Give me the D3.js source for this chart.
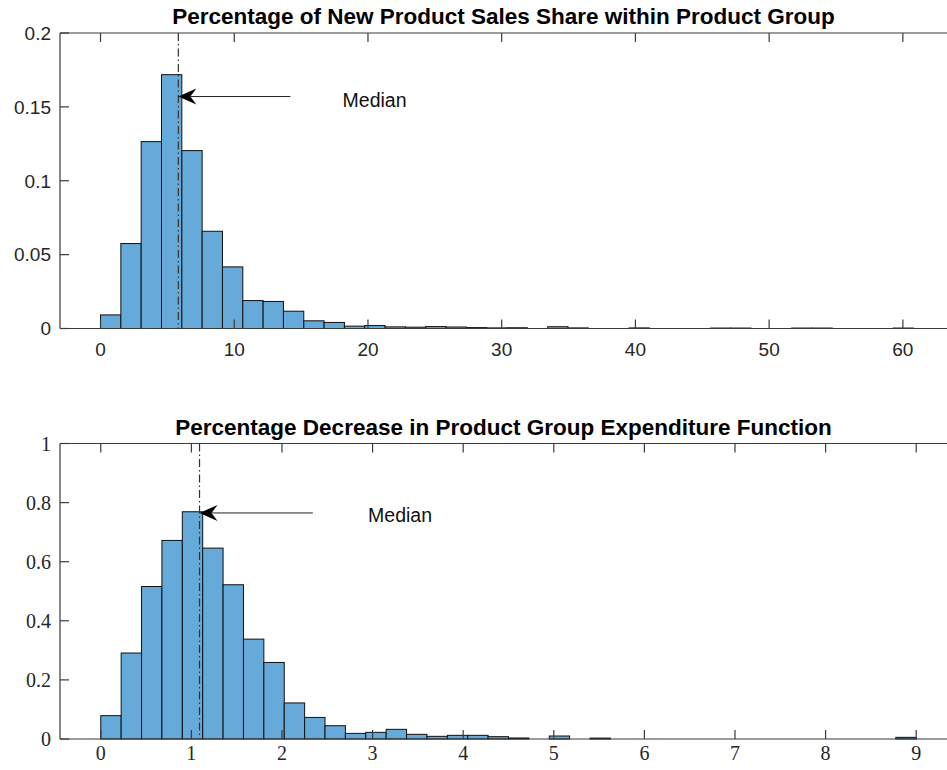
<!DOCTYPE html>
<html>
<head>
<meta charset="utf-8">
<script src="https://cdn.jsdelivr.net/npm/d3@7"></script>
<style>
  html, body { margin: 0; padding: 0; background: #fff; }
  svg { display: block; }
</style>
</head>
<body>
<svg id="chart" width="947" height="770"></svg>
<script>
// Share of new product sales within product group (%), probability per bin
const salesShareBinStart = 0;
const salesShareBinWidth = 1.52;
const salesShareProb = [
  0.0092, 0.0575, 0.1265, 0.1718, 0.1204, 0.0658, 0.0417, 0.0189, 0.0183, 0.0117,
  0.0052, 0.0041, 0.0016, 0.0020, 0.0011, 0.0009, 0.0013, 0.0010, 0.0006, 0.0004,
  0.0005, 0, 0.0012, 0.0004, 0, 0, 0.0004, 0, 0, 0,
  0.0003, 0.0003, 0, 0, 0.0003, 0.0003, 0, 0, 0, 0.0003
];
const salesShareMedian = 5.82;
const salesShareXTicks = [0, 10, 20, 30, 40, 50, 60];
const salesShareYTicks = [0, 0.05, 0.1, 0.15, 0.2];
const salesShareYLabels = ["0", "0.05", "0.1", "0.15", "0.2"];

// Decrease in product group expenditure function (%), probability density per bin
const expenditureBinStart = 0;
const expenditureBinWidth = 0.225;
const expenditureDens = [
  0.079, 0.291, 0.516, 0.672, 0.769, 0.646, 0.522, 0.338, 0.259, 0.122,
  0.073, 0.045, 0.019, 0.0225, 0.0327, 0.0158, 0.009, 0.0124, 0.0124, 0.0079,
  0.0034, 0, 0.0101, 0, 0.003, 0, 0, 0, 0, 0,
  0, 0, 0, 0, 0, 0, 0, 0, 0, 0.0056
];
const expenditureMedian = 1.09;
const expenditureXTicks = [0, 1, 2, 3, 4, 5, 6, 7, 8, 9];
const expenditureYTicks = [0, 0.2, 0.4, 0.6, 0.8, 1];
const expenditureYLabels = ["0", "0.2", "0.4", "0.6", "0.8", "1"];

const svg = d3.select("#chart");

const panels = [
  {
    title: "Percentage of New Product Sales Share within Product Group",
    start: salesShareBinStart, width: salesShareBinWidth, values: salesShareProb,
    median: salesShareMedian,
    xDomain: [-3.03, 63.3], yDomain: [0, 0.2],
    xTicks: salesShareXTicks, yTicks: salesShareYTicks, yLabels: salesShareYLabels,
    arrow: { fromX: 14.2, y: 0.157 }, labelAt: { x: 18.1, y: 0.155 },
    box: { left: 60, right: 947, top: 33, bottom: 328.5 },
    tickFont: "'Liberation Sans', Arial, sans-serif", tickSize: 19, xLabelGap: 14
  },
  {
    title: "Percentage Decrease in Product Group Expenditure Function",
    start: expenditureBinStart, width: expenditureBinWidth, values: expenditureDens,
    median: expenditureMedian,
    xDomain: [-0.45, 9.34], yDomain: [0, 1],
    xTicks: expenditureXTicks, yTicks: expenditureYTicks, yLabels: expenditureYLabels,
    arrow: { fromX: 2.34, y: 0.765 }, labelAt: { x: 2.95, y: 0.757 },
    box: { left: 60, right: 947, top: 443.5, bottom: 739 },
    tickFont: "'Liberation Serif', 'Times New Roman', serif", tickSize: 20, xLabelGap: 7
  }
];

const axisColor = "#3a3a3a";
const tickLen = 9;

panels.forEach(p => {
  const b = p.box;
  const x = d3.scaleLinear().domain(p.xDomain).range([b.left, b.right]);
  const y = d3.scaleLinear().domain(p.yDomain).range([b.bottom, b.top]);
  const g = svg.append("g");

  // histogram bars (zero-count bins are left undrawn)
  const bins = p.values.map((v, i) => ({
    x0: p.start + i * p.width,
    x1: p.start + (i + 1) * p.width,
    v
  })).filter(d => d.v > 0);

  g.append("g").selectAll("rect")
    .data(bins)
    .join("rect")
    .attr("x", d => x(d.x0))
    .attr("y", d => y(d.v))
    .attr("width", d => x(d.x1) - x(d.x0))
    .attr("height", d => y(0) - y(d.v))
    .attr("fill", "#65aad8")
    .attr("stroke", "#111")
    .attr("stroke-width", 1);

  // axis lines: left, bottom, top (right side runs past the page)
  const frame = g.append("g").attr("stroke", axisColor).attr("stroke-width", 1.2).attr("fill", "none");
  frame.append("line").attr("x1", b.left).attr("x2", b.left).attr("y1", b.top).attr("y2", b.bottom);
  frame.append("line").attr("x1", b.left).attr("x2", b.right).attr("y1", b.bottom).attr("y2", b.bottom);
  frame.append("line").attr("x1", b.left).attr("x2", b.right).attr("y1", b.top).attr("y2", b.top);

  // inward ticks on bottom, top and left
  const tk = g.append("g").attr("stroke", axisColor).attr("stroke-width", 1.2);
  p.xTicks.forEach(t => {
    tk.append("line").attr("x1", x(t)).attr("x2", x(t)).attr("y1", b.bottom).attr("y2", b.bottom - tickLen);
    tk.append("line").attr("x1", x(t)).attr("x2", x(t)).attr("y1", b.top).attr("y2", b.top + tickLen);
  });
  p.yTicks.forEach(t => {
    tk.append("line").attr("x1", b.left).attr("x2", b.left + tickLen).attr("y1", y(t)).attr("y2", y(t));
  });

  // tick labels
  const lbl = g.append("g")
    .attr("font-family", p.tickFont)
    .attr("font-size", p.tickSize)
    .attr("fill", "#262626");
  p.xTicks.forEach(t => {
    lbl.append("text")
      .attr("x", x(t)).attr("y", b.bottom + p.xLabelGap)
      .attr("dy", "0.72em")
      .attr("text-anchor", "middle")
      .text(t);
  });
  p.yTicks.forEach((t, i) => {
    lbl.append("text")
      .attr("x", b.left - 9).attr("y", y(t))
      .attr("dy", "0.36em")
      .attr("text-anchor", "end")
      .text(p.yLabels[i]);
  });

  // median marker line (dash-dot)
  g.append("line")
    .attr("x1", x(p.median)).attr("x2", x(p.median))
    .attr("y1", b.top).attr("y2", b.bottom)
    .attr("stroke", "#333")
    .attr("stroke-width", 1.2)
    .attr("stroke-dasharray", "8,3,1.5,3");

  // arrow pointing at the median
  const ax0 = x(p.arrow.fromX), ax1 = x(p.median), ay = y(p.arrow.y);
  const headLen = 18, headW = 16, notch = 12;
  g.append("line")
    .attr("x1", ax0).attr("x2", ax1 + notch).attr("y1", ay).attr("y2", ay)
    .attr("stroke", "#222").attr("stroke-width", 1);
  g.append("path")
    .attr("d", `M${ax1},${ay} L${ax1 + headLen},${ay - headW / 2} L${ax1 + notch},${ay} L${ax1 + headLen},${ay + headW / 2} Z`)
    .attr("fill", "#000");

  g.append("text")
    .attr("x", x(p.labelAt.x)).attr("y", y(p.labelAt.y))
    .attr("dy", "0.36em")
    .attr("font-family", "'Liberation Sans', Arial, sans-serif")
    .attr("font-size", 19.5)
    .attr("fill", "#111")
    .text("Median");

  // title
  g.append("text")
    .attr("x", (b.left + b.right) / 2).attr("y", b.top - 9)
    .attr("text-anchor", "middle")
    .attr("font-family", "'Liberation Sans', Arial, sans-serif")
    .attr("font-weight", "bold")
    .attr("font-size", 22.5)
    .attr("fill", "#000")
    .text(p.title);
});
</script>
</body>
</html>
